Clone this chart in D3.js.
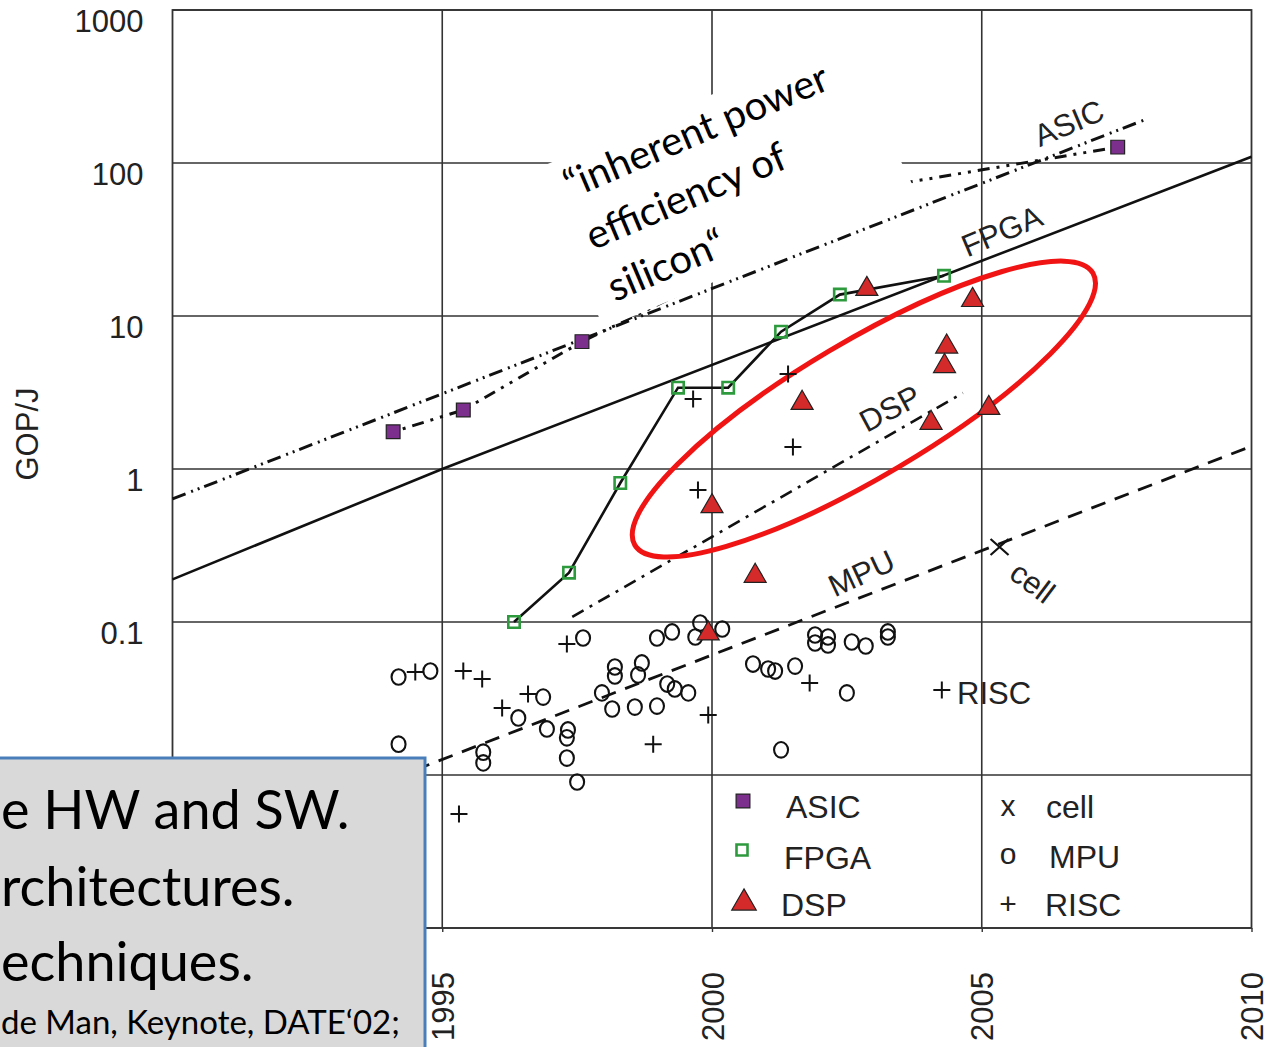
<!DOCTYPE html>
<html>
<head>
<meta charset="utf-8">
<script src="https://cdn.jsdelivr.net/npm/d3@7"></script>
<style>
  body { margin: 0; background: #fff; }
  svg { display: block; }
</style>
</head>
<body>
<svg width="1266" height="1047"></svg>
<script>
// axis values (0.01, 0.001 and 1990 sit under the callout, so only grid lines for them)
const yGrid = [1000, 100, 10, 1, 0.1, 0.01, 0.001]
const yTicks = [1000, 100, 10, 1, 0.1]
const yTickLabels = ['1000', '100', '10', '1', '0.1']
const xTicks = [1995, 2000, 2005, 2010]
const xGrid = [1995, 2000, 2005]

// points, [year, GOP/J]
const asic = [[1994.09, 1.75], [1995.39, 2.43], [1997.59, 6.8], [2007.52, 127]]
const fpga = [[1996.33, 0.10], [1997.35, 0.21], [1998.30, 0.81], [1999.37, 3.4],
  [2000.30, 3.4], [2001.28, 7.9], [2002.37, 13.8], [2004.30, 18.3]]
const dsp = [[2002.87, 15.0], [2004.83, 12.7], [2004.35, 6.3], [2004.31, 4.7],
  [2004.06, 2.0], [2005.13, 2.5], [2001.67, 2.7], [2000.0, 0.57], [2000.80, 0.20], [1999.93, 0.084]]
const mpu = [[1997.61, 0.0786], [1994.19, 0.0437], [1994.78, 0.0478], [1996.87, 0.0323],
  [1996.41, 0.0236], [1996.94, 0.0200], [1997.33, 0.0197], [1997.31, 0.0175], [1997.31, 0.0129],
  [1997.5, 0.0090], [1995.76, 0.0141], [1995.76, 0.0120], [1994.19, 0.0159], [1998.2, 0.0508],
  [1998.2, 0.0444], [1998.70, 0.0540], [1998.63, 0.0451], [1997.96, 0.0344], [1998.15, 0.0270],
  [1998.57, 0.0278], [1998.98, 0.0282], [1998.98, 0.0786], [1999.26, 0.0861], [1999.78, 0.0985],
  [1999.69, 0.0798], [2000.19, 0.0900], [1999.17, 0.0393], [1999.31, 0.0365], [1999.56, 0.0344],
  [2000.76, 0.0531], [2001.04, 0.0493], [2001.17, 0.0478], [2001.54, 0.0515], [2002.5, 0.0344],
  [2001.28, 0.0146], [2001.91, 0.0822], [2001.91, 0.0729], [2002.15, 0.0798], [2002.15, 0.0708],
  [2002.59, 0.0740], [2002.85, 0.0697], [2003.26, 0.0861], [2003.26, 0.0798]]
const risc = [[1999.65, 2.87], [2001.41, 4.18], [2001.5, 1.39], [1999.74, 0.73], [1997.31, 0.0718],
  [1994.5, 0.0471], [1995.39, 0.0478], [1995.74, 0.0424], [1996.59, 0.0338], [1996.11, 0.0274],
  [1998.91, 0.0159], [1999.93, 0.0247], [2001.81, 0.0399], [2004.26, 0.0360], [1995.31, 0.00556]]
const cell = [[2005.33, 0.309]]

// trend lines
const inherentLine = [[1990, 0.637], [2008.06, 194]]
const asicLine = [[1994.09, 1.75], [1995.39, 2.43], [1997.59, 6.8], [2003.65, 75], [2007.52, 127]]
const fpgaTrend = [[1990, 0.19], [1995, 1], [2010, 110]]
const dspTrend = [[1997.41, 0.108], [2004.65, 3.14]]
const mpuTrend = [[1994.5, 0.0108], [2010, 1.41]]

// annotation shapes
const quoteBox = [[1996.91, 97], [2002.39, 637], [2003.81, 61.8], [1997.98, 8.22]]
const ellipseAxis = [[1998.57, 0.318], [2007.06, 19.1]]
const ellipseMinor = [2002.17, 5.9]

const legendLeft = ['ASIC', 'FPGA', 'DSP']
const legendRight = [['x', 'cell'], ['o', 'MPU'], ['+', 'RISC']]
const quoteLines = ['\u201Cinherent power', 'efficiency of', 'silicon\u201C']
const slideLines = ['e HW and SW.', 'rchitectures.', 'echniques.']
const slideNote = 'de Man, Keynote, DATE\u201802;'

const svg = d3.select('svg')
const sans = 'Liberation Sans, Arial, Helvetica, sans-serif'
const slideFont = 'Lato, Open Sans, sans-serif'
const ink = '#222'

const x = d3.scaleLinear().domain([1990, 2010]).range([172.5, 1251.5])
const y = d3.scaleLog().domain([0.001, 1000]).range([928, 10])
const line = d3.line().x(d => x(d[0])).y(d => y(d[1]))

// grid
svg.append('g').selectAll('line').data(yGrid).join('line')
  .attr('x1', x(1990)).attr('x2', x(2010))
  .attr('y1', d => y(d)).attr('y2', d => y(d))
  .attr('stroke', '#333').attr('stroke-width', 1.6)
svg.append('g').selectAll('line').data(xGrid).join('line')
  .attr('x1', d => x(d)).attr('x2', d => x(d))
  .attr('y1', y(1000)).attr('y2', y(0.001))
  .attr('stroke', '#333').attr('stroke-width', 1.6)
svg.append('rect')
  .attr('x', x(1990)).attr('y', y(1000))
  .attr('width', x(2010) - x(1990)).attr('height', y(0.001) - y(1000))
  .attr('fill', 'none').attr('stroke', '#333').attr('stroke-width', 1.8)

// axes
const yAxis = svg.append('g')
  .attr('transform', `translate(${x(1990)},0)`)
  .call(d3.axisLeft(y).tickValues(yTicks).tickFormat((d, i) => yTickLabels[i]).tickSize(0).tickPadding(29))
yAxis.select('.domain').remove()
yAxis.selectAll('text')
  .attr('font-family', sans).attr('font-size', 31).attr('fill', ink).attr('dy', '0.68em')

const xAxis = svg.append('g')
  .attr('transform', `translate(0,${y(0.001)})`)
  .call(d3.axisBottom(x).tickValues(xTicks).tickFormat(d3.format('d')).tickSize(4))
xAxis.select('.domain').remove()
xAxis.selectAll('line').attr('stroke', '#333').attr('stroke-width', 1.4)
xAxis.selectAll('text')
  .attr('transform', 'rotate(-90)')
  .attr('text-anchor', 'end')
  .attr('x', -44).attr('y', 11).attr('dy', 0)
  .attr('font-family', sans).attr('font-size', 31).attr('fill', ink)

svg.append('text')
  .attr('transform', `translate(38,434) rotate(-90)`)
  .attr('text-anchor', 'middle')
  .attr('font-family', sans).attr('font-size', 31).attr('fill', ink)
  .text('GOP/J')

// lines
const lines = [
  { data: inherentLine, dash: '14,6,2,5,2,5', w: 3 },
  { data: asicLine, dash: '3,7,3,7,12,7', w: 3 },
  { data: fpgaTrend, dash: null, w: 2.6 },
  { data: fpga, dash: null, w: 2.6 },
  { data: dspTrend, dash: '13,7,3,7', w: 2.6 },
  { data: mpuTrend, dash: '15,10', w: 2.8 },
]
svg.append('g').selectAll('path').data(lines).join('path')
  .attr('d', d => line(d.data))
  .attr('fill', 'none').attr('stroke', '#111')
  .attr('stroke-width', d => d.w)
  .attr('stroke-dasharray', d => d.dash)

// white backing behind the quote
svg.append('path')
  .attr('d', line(quoteBox) + 'Z')
  .attr('fill', '#fff')

const quote = svg.append('g')
  .attr('transform', 'translate(571,199) rotate(-23)')
quote.selectAll('text').data(quoteLines).join('text')
  .attr('x', 0).attr('y', (d, i) => i * 56)
  .attr('font-family', slideFont).attr('font-size', 40).attr('fill', '#000')
  .text(d => d)

// red ellipse
const e1 = [x(ellipseAxis[0][0]), y(ellipseAxis[0][1])]
const e2 = [x(ellipseAxis[1][0]), y(ellipseAxis[1][1])]
const ec = [(e1[0] + e2[0]) / 2, (e1[1] + e2[1]) / 2]
const ea = Math.hypot(e2[0] - e1[0], e2[1] - e1[1]) / 2
const eb = Math.hypot(x(ellipseMinor[0]) - ec[0], y(ellipseMinor[1]) - ec[1])
const eAngle = Math.atan2(e2[1] - e1[1], e2[0] - e1[0]) * 180 / Math.PI
svg.append('ellipse')
  .attr('transform', `translate(${ec[0]},${ec[1]}) rotate(${eAngle})`)
  .attr('rx', ea).attr('ry', eb)
  .attr('fill', 'none').attr('stroke', '#f01414').attr('stroke-width', 5)

// markers
const at = d => `translate(${x(d[0])},${y(d[1])})`
svg.append('g').selectAll('path').data(asic).join('path')
  .attr('transform', at)
  .attr('d', d3.symbol(d3.symbolSquare, 190))
  .attr('fill', '#7d2f8e').attr('stroke', ink).attr('stroke-width', 1.2)
svg.append('g').selectAll('path').data(fpga).join('path')
  .attr('transform', at)
  .attr('d', d3.symbol(d3.symbolSquare, 130))
  .attr('fill', 'none').attr('stroke', '#2e9a3e').attr('stroke-width', 2.6)
svg.append('g').selectAll('ellipse').data(mpu).join('ellipse')
  .attr('cx', d => x(d[0])).attr('cy', d => y(d[1]))
  .attr('rx', 7).attr('ry', 7.8)
  .attr('fill', 'none').attr('stroke', '#111').attr('stroke-width', 2.1)
svg.append('g').selectAll('path').data(risc).join('path')
  .attr('transform', at)
  .attr('d', 'M-8.5,0H8.5M0,-8.5V8.5')
  .attr('stroke', '#111').attr('stroke-width', 2)
svg.append('g').selectAll('path').data(cell).join('path')
  .attr('transform', at)
  .attr('d', 'M-9,-8L9,8M-9,8L9,-8')
  .attr('stroke', '#111').attr('stroke-width', 2.2)
svg.append('g').selectAll('path').data(dsp).join('path')
  .attr('transform', at)
  .attr('d', d3.symbol(d3.symbolTriangle, 210))
  .attr('fill', '#d42a2a').attr('stroke', ink).attr('stroke-width', 1.2)

// series labels
const seriesLabels = [
  { t: 'ASIC', tr: 'translate(1073,133) rotate(-23)' },
  { t: 'FPGA', tr: 'translate(1006,241) rotate(-23)' },
  { t: 'DSP', tr: 'translate(895,418) rotate(-28)' },
  { t: 'MPU', tr: 'translate(866,583) rotate(-25)' },
  { t: 'cell', tr: 'translate(1026,591) rotate(37)' },
]
svg.append('g').selectAll('text').data(seriesLabels).join('text')
  .attr('transform', d => d.tr)
  .attr('text-anchor', 'middle')
  .attr('font-family', sans).attr('font-size', 31).attr('fill', ink)
  .text(d => d.t)
svg.append('text')
  .attr('x', 957).attr('y', 704)
  .attr('font-family', sans).attr('font-size', 31).attr('fill', ink)
  .text('RISC')

// legend
const legendRows = [818, 869, 916]
const legendSym = [
  g => g.attr('d', d3.symbol(d3.symbolSquare, 190)).attr('fill', '#7d2f8e').attr('stroke', ink).attr('stroke-width', 1.2),
  g => g.attr('d', d3.symbol(d3.symbolSquare, 121)).attr('fill', 'none').attr('stroke', '#2e9a3e').attr('stroke-width', 2.6),
  g => g.attr('d', d3.symbol(d3.symbolTriangle, 260)).attr('fill', '#d42a2a').attr('stroke', ink).attr('stroke-width', 1.2),
]
const legSymY = [801, 850, 903]
legendLeft.forEach((name, i) => {
  svg.append('path')
    .attr('transform', `translate(${[743, 742, 744][i]},${legSymY[i]})`)
    .call(legendSym[i])
  svg.append('text')
    .attr('x', [786, 784, 781][i]).attr('y', legendRows[i])
    .attr('font-family', sans).attr('font-size', 32).attr('fill', ink)
    .text(name)
})
legendRight.forEach((d, i) => {
  svg.append('text')
    .attr('x', 1008).attr('y', [816, 864, 914][i])
    .attr('text-anchor', 'middle')
    .attr('font-family', sans).attr('font-size', 30).attr('fill', ink)
    .text(d[0])
  svg.append('text')
    .attr('x', [1046, 1049, 1045][i]).attr('y', [818, 868, 916][i])
    .attr('font-family', sans).attr('font-size', 32).attr('fill', ink)
    .text(d[1])
})

// slide callout over the lower left corner
svg.append('rect')
  .attr('x', -10).attr('y', 758).attr('width', 435).attr('height', 320)
  .attr('fill', '#d9d9d9').attr('stroke', '#4a7ebb').attr('stroke-width', 3)
svg.append('g').selectAll('text').data(slideLines).join('text')
  .attr('x', 1).attr('y', (d, i) => [829, 906, 981][i])
  .attr('font-family', slideFont).attr('font-size', 54).attr('fill', '#000')
  .text(d => d)
svg.append('text')
  .attr('x', 1).attr('y', 1034)
  .attr('font-family', slideFont).attr('font-size', 33).attr('fill', '#000')
  .text(slideNote)
</script>
</body>
</html>
